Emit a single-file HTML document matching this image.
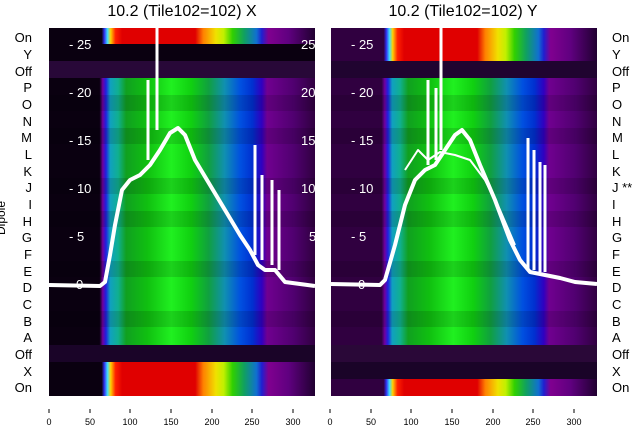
<!DOCTYPE html>
<html><head><meta charset="utf-8"><style>
body{margin:0;background:#fff;width:640px;height:440px;overflow:hidden}
text{font-family:"Liberation Sans","DejaVu Sans",sans-serif}
</style></head><body>
<svg width="640" height="440" viewBox="0 0 640 440">
<defs>
<linearGradient id="gL" x1="0" x2="1">
<stop offset="0" stop-color="#0a0010"/><stop offset=".19" stop-color="#0a0010"/><stop offset=".202" stop-color="#7000a0"/><stop offset=".214" stop-color="#2020e0"/><stop offset=".23" stop-color="#10a0c0"/><stop offset=".26" stop-color="#10b090"/><stop offset=".29" stop-color="#10a020"/><stop offset=".37" stop-color="#10c010"/><stop offset=".46" stop-color="#20f020"/><stop offset=".535" stop-color="#10d010"/><stop offset=".6" stop-color="#10a040"/><stop offset=".66" stop-color="#1090b0"/><stop offset=".72" stop-color="#0050e0"/><stop offset=".765" stop-color="#0030d0"/><stop offset=".8" stop-color="#3000c0"/><stop offset=".82" stop-color="#700090"/><stop offset=".92" stop-color="#500070"/><stop offset="1" stop-color="#300040"/>
</linearGradient>
<linearGradient id="gR" x1="0" x2="1">
<stop offset="0" stop-color="#300040"/><stop offset=".19" stop-color="#300040"/><stop offset=".202" stop-color="#7000a0"/><stop offset=".214" stop-color="#2020e0"/><stop offset=".23" stop-color="#10a0c0"/><stop offset=".26" stop-color="#10b090"/><stop offset=".29" stop-color="#10a020"/><stop offset=".37" stop-color="#10c010"/><stop offset=".46" stop-color="#20f020"/><stop offset=".535" stop-color="#10d010"/><stop offset=".6" stop-color="#10a040"/><stop offset=".66" stop-color="#1090b0"/><stop offset=".72" stop-color="#0050e0"/><stop offset=".765" stop-color="#0030d0"/><stop offset=".8" stop-color="#3000c0"/><stop offset=".82" stop-color="#700090"/><stop offset=".92" stop-color="#500070"/><stop offset="1" stop-color="#300040"/>
</linearGradient>
<linearGradient id="rL" x1="0" x2="1">
<stop offset="0" stop-color="#0a0010"/><stop offset=".198" stop-color="#0a0010"/><stop offset=".208" stop-color="#3030f0"/><stop offset=".22" stop-color="#40e0ff"/><stop offset=".232" stop-color="#ffd000"/><stop offset=".25" stop-color="#ff2000"/><stop offset=".275" stop-color="#e00000"/><stop offset=".55" stop-color="#e00000"/><stop offset=".58" stop-color="#ff8000"/><stop offset=".627" stop-color="#f0e000"/><stop offset=".657" stop-color="#c0f000"/><stop offset=".69" stop-color="#30d000"/><stop offset=".734" stop-color="#10a060"/><stop offset=".78" stop-color="#1070d0"/><stop offset=".8" stop-color="#2020d0"/><stop offset=".825" stop-color="#800090"/><stop offset=".9" stop-color="#600080"/><stop offset="1" stop-color="#200030"/>
</linearGradient>
<linearGradient id="rR" x1="0" x2="1">
<stop offset="0" stop-color="#300040"/><stop offset=".198" stop-color="#300040"/><stop offset=".208" stop-color="#3030f0"/><stop offset=".22" stop-color="#40e0ff"/><stop offset=".232" stop-color="#ffd000"/><stop offset=".25" stop-color="#ff2000"/><stop offset=".275" stop-color="#e00000"/><stop offset=".55" stop-color="#e00000"/><stop offset=".58" stop-color="#ff8000"/><stop offset=".627" stop-color="#f0e000"/><stop offset=".657" stop-color="#c0f000"/><stop offset=".69" stop-color="#30d000"/><stop offset=".734" stop-color="#10a060"/><stop offset=".78" stop-color="#1070d0"/><stop offset=".8" stop-color="#2020d0"/><stop offset=".825" stop-color="#800090"/><stop offset=".9" stop-color="#600080"/><stop offset="1" stop-color="#200030"/>
</linearGradient>
</defs>
<text x="182" y="16" font-size="16" text-anchor="middle">10.2 (Tile102=102) X</text>
<text x="463" y="16" font-size="16" text-anchor="middle">10.2 (Tile102=102) Y</text>
<!-- left panel -->
<rect x="49" y="28" width="266" height="368" fill="url(#gL)"/>
<rect x="49" y="28" width="266" height="16" fill="url(#rL)"/>
<rect x="49" y="44" width="266" height="17" fill="#0a0010"/>
<rect x="49" y="61" width="266" height="17" fill="#280838"/>
<rect x="49" y="345" width="266" height="17" fill="#1a0428"/>
<rect x="49" y="362" width="266" height="34" fill="url(#rL)"/>
<g fill="#000" opacity=".12"><rect x="49" y="95" width="266" height="16"/><rect x="49" y="128" width="266" height="16"/><rect x="49" y="178" width="266" height="16"/><rect x="49" y="211" width="266" height="16"/><rect x="49" y="261" width="266" height="16"/><rect x="49" y="311" width="266" height="16"/></g>
<!-- right panel -->
<rect x="331" y="28" width="266" height="368" fill="url(#gR)"/>
<rect x="331" y="28" width="266" height="33" fill="url(#rR)"/>
<rect x="331" y="61" width="266" height="17" fill="#200430"/>
<rect x="331" y="345" width="266" height="17" fill="#2a0838"/>
<rect x="331" y="362" width="266" height="17" fill="#1a0428"/>
<rect x="331" y="379" width="266" height="17" fill="url(#rR)"/>
<g fill="#000" opacity=".12"><rect x="331" y="95" width="266" height="16"/><rect x="331" y="128" width="266" height="16"/><rect x="331" y="178" width="266" height="16"/><rect x="331" y="211" width="266" height="16"/><rect x="331" y="261" width="266" height="16"/><rect x="331" y="311" width="266" height="16"/></g>
<!-- curves -->
<g fill="none" stroke="#fff" stroke-linejoin="round">
<polyline stroke-width="4" points="49,285 100,286 105,282 110,255 115,225 122,190 130,180 140,175 150,165 160,150 170,133 178,128 185,135 195,160 210,185 225,210 240,235 250,250 258,265 265,270 275,270 285,282 315,286"/>
<path stroke-width="3" d="M157,130V28M148,160V80M255,255V145M262,260V175M272,265V180M279,270V190"/>
<polyline stroke-width="4" points="331,284 380,285 385,280 395,245 405,205 415,180 425,170 435,165 445,150 455,135 462,130 470,140 480,165 495,200 510,240 520,260 530,272 545,275 560,278 575,282 597,284"/>
<polyline stroke-width="2" points="405,170 418,150 428,160 440,152 455,155 470,160 485,180 500,210 515,245"/>
<path stroke-width="3" d="M441,150V28M428,165V80M436,160V88M528,270V138M534,270V150M540,272V162M545,272V165"/>
</g>
<g fill="#fff" font-size="13">
<text x="69" y="49">- 25</text><text x="69" y="97">- 20</text><text x="69" y="145">- 15</text><text x="69" y="193">- 10</text><text x="69" y="241">- 5</text><text x="76" y="289">0</text>
<text x="351" y="49">- 25</text><text x="351" y="97">- 20</text><text x="351" y="145">- 15</text><text x="351" y="193">- 10</text><text x="351" y="241">- 5</text><text x="358" y="289">0</text>
<text x="301" y="49">25</text><text x="301" y="97">20</text><text x="301" y="145">15</text><text x="301" y="193">10</text><text x="309" y="241">5</text>
</g>
<g font-size="13" text-anchor="end">
<text x="32" y="42">On</text><text x="32" y="59">Y</text><text x="32" y="76">Off</text><text x="32" y="92">P</text><text x="32" y="109">O</text><text x="32" y="126">N</text><text x="32" y="142">M</text><text x="32" y="159">L</text><text x="32" y="176">K</text><text x="32" y="192">J</text><text x="32" y="209">I</text><text x="32" y="226">H</text><text x="32" y="242">G</text><text x="32" y="259">F</text><text x="32" y="276">E</text><text x="32" y="292">D</text><text x="32" y="309">C</text><text x="32" y="326">B</text><text x="32" y="342">A</text><text x="32" y="359">Off</text><text x="32" y="376">X</text><text x="32" y="392">On</text>
</g>
<g font-size="13">
<text x="612" y="42">On</text><text x="612" y="59">Y</text><text x="612" y="76">Off</text><text x="612" y="92">P</text><text x="612" y="109">O</text><text x="612" y="126">N</text><text x="612" y="142">M</text><text x="612" y="159">L</text><text x="612" y="176">K</text><text x="612" y="192">J **</text><text x="612" y="209">I</text><text x="612" y="226">H</text><text x="612" y="242">G</text><text x="612" y="259">F</text><text x="612" y="276">E</text><text x="612" y="292">D</text><text x="612" y="309">C</text><text x="612" y="326">B</text><text x="612" y="342">A</text><text x="612" y="359">Off</text><text x="612" y="376">X</text><text x="612" y="392">On</text>
</g>
<text transform="translate(5,218) rotate(-90)" font-size="12" text-anchor="middle">Dipole</text>
<g stroke="#000" stroke-width="1"><path d="M49,409v4M90,409v4M130,409v4M171,409v4M212,409v4M252,409v4M293,409v4M330,409v4M371,409v4M411,409v4M452,409v4M493,409v4M533,409v4M574,409v4"/></g>
<g font-size="9" text-anchor="middle">
<text x="49" y="425">0</text><text x="90" y="425">50</text><text x="130" y="425">100</text><text x="171" y="425">150</text><text x="212" y="425">200</text><text x="252" y="425">250</text><text x="293" y="425">300</text>
<text x="330" y="425">0</text><text x="371" y="425">50</text><text x="411" y="425">100</text><text x="452" y="425">150</text><text x="493" y="425">200</text><text x="533" y="425">250</text><text x="574" y="425">300</text>
</g>
</svg>
</body></html>
